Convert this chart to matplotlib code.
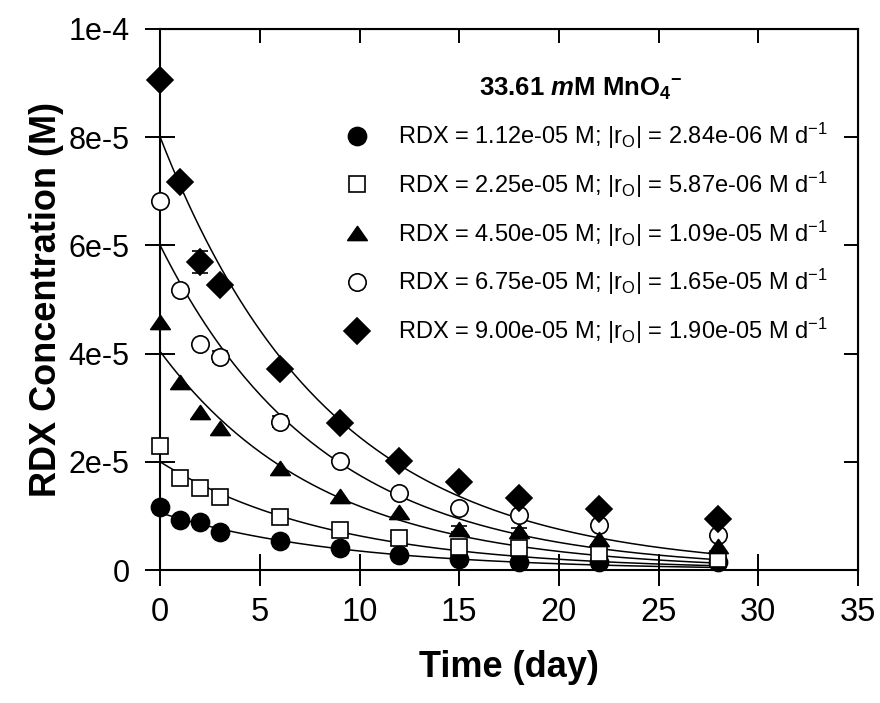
import numpy as np
import matplotlib
matplotlib.use("Agg")
import matplotlib.pyplot as plt
from matplotlib.path import Path

plt.rcParams["font.family"] = ["Liberation Sans", "DejaVu Sans"]
plt.rcParams["mathtext.fontset"] = "custom"
plt.rcParams["mathtext.rm"] = "Liberation Sans"
plt.rcParams["mathtext.it"] = "Liberation Sans:italic"
plt.rcParams["mathtext.bf"] = "Liberation Sans:bold"
plt.rcParams["mathtext.bfit"] = "Liberation Sans:bold:italic"

# sampling times (day)
time = [0, 1, 2, 3, 6, 9, 12, 15, 18, 22, 28]

# measured RDX concentration (M), one list per initial RDX
rdx_112 = [1.17e-5, 0.93e-5, 0.89e-5, 0.70e-5, 0.54e-5, 0.40e-5, 0.28e-5, 0.20e-5, 0.15e-5, 0.15e-5, 0.15e-5]
rdx_225 = [2.30e-5, 1.70e-5, 1.52e-5, 1.36e-5, 0.98e-5, 0.74e-5, 0.59e-5, 0.43e-5, 0.40e-5, 0.31e-5, 0.20e-5]
rdx_450 = [4.59e-5, 3.48e-5, 2.93e-5, 2.63e-5, 1.89e-5, 1.37e-5, 1.07e-5, 0.76e-5, 0.72e-5, 0.57e-5, 0.44e-5]
rdx_675 = [6.82e-5, 5.17e-5, 4.17e-5, 3.94e-5, 2.74e-5, 2.02e-5, 1.43e-5, 1.15e-5, 1.02e-5, 0.83e-5, 0.65e-5]
rdx_900 = [9.06e-5, 7.17e-5, 5.69e-5, 5.26e-5, 3.72e-5, 2.72e-5, 2.02e-5, 1.63e-5, 1.33e-5, 1.13e-5, 0.94e-5]

# error bars (M)
err_112 = [0, 0, 0, 0, 0, 0, 0, 0, 0, 0, 0]
err_225 = [0, 0, 0, 0, 0, 0, 0, 0, 0, 0, 0]
err_450 = [0, 0, 0, 0, 0, 0, 0, 0.5e-6, 0.6e-6, 0, 0]
err_675 = [0, 0, 0, 1.0e-6, 1.0e-6, 0, 0, 0, 0.5e-6, 0, 0]
err_900 = [0, 0, 2.0e-6, 0, 0, 0, 0, 0, 0, 0, 0]

# first-order fit parameters: C0 (M), k (1/day)
fit_c0 = [1.06e-5, 2.00e-5, 4.04e-5, 6.00e-5, 8.00e-5]
fit_k = [0.110, 0.115, 0.123, 0.123, 0.118]

labels = [
    r"RDX = 1.12e-05 M; |r$_\mathrm{O}$| = 2.84e-06 M d$^\mathrm{-1}$",
    r"RDX = 2.25e-05 M; |r$_\mathrm{O}$| = 5.87e-06 M d$^\mathrm{-1}$",
    r"RDX = 4.50e-05 M; |r$_\mathrm{O}$| = 1.09e-05 M d$^\mathrm{-1}$",
    r"RDX = 6.75e-05 M; |r$_\mathrm{O}$| = 1.65e-05 M d$^\mathrm{-1}$",
    r"RDX = 9.00e-05 M; |r$_\mathrm{O}$| = 1.90e-05 M d$^\mathrm{-1}$",
]

# flat triangle like the original symbol
tri = Path([(-1, -0.72), (1, -0.72), (0, 0.72), (-1, -0.72)],
           [Path.MOVETO, Path.LINETO, Path.LINETO, Path.CLOSEPOLY])

series = [rdx_112, rdx_225, rdx_450, rdx_675, rdx_900]
errors = [err_112, err_225, err_450, err_675, err_900]
markers = ["o", "s", tri, "o", "D"]
faces = ["black", "white", "black", "white", "black"]
sizes = [13, 11.5, 14, 12.5, 13]
zorders = [3, 4, 6, 5, 7]

fig = plt.figure(figsize=(8.8, 7.03), dpi=100)
ax = fig.add_axes([0.182, 0.189, 0.793, 0.770])

t_fit = np.linspace(0, 28, 200)
for c0, k in zip(fit_c0, fit_k):
    ax.plot(t_fit, c0 * np.exp(-k * t_fit), color="black", lw=1.1, zorder=2)

handles = []
for y, e, m, fc, ms, z in zip(series, errors, markers, faces, sizes, zorders):
    ye = np.array(e)
    mask = ye > 0
    ax.errorbar(np.array(time)[mask], np.array(y)[mask], yerr=ye[mask], fmt="none",
                ecolor="black", elinewidth=1.2, capsize=6, capthick=1.2, zorder=z)
    h, = ax.plot(time, y, linestyle="none", marker=m, ms=ms, mfc=fc, mec="black",
                 mew=1.2, zorder=z, clip_on=False)
    handles.append(h)

ax.set_xlim(0, 35)
ax.set_ylim(0, 1e-4)
ax.set_xticks(range(0, 36, 5))
ax.set_yticks([0, 2e-5, 4e-5, 6e-5, 8e-5, 1e-4],
              ["0", "2e-5", "4e-5", "6e-5", "8e-5", "1e-4"])
ax.tick_params(axis="x", direction="inout", length=23, width=1.4, labelsize=23.5, pad=8)
ax.tick_params(axis="y", direction="inout", length=22, width=1.4, labelsize=22, pad=11)
for s in ax.spines.values():
    s.set_linewidth(1.5)

top = ax.secondary_xaxis("top")
top.set_xticks(range(0, 36, 5))
top.tick_params(direction="in", length=10, width=1.4, labeltop=False)
right = ax.secondary_yaxis("right")
right.set_yticks([0, 2e-5, 4e-5, 6e-5, 8e-5, 1e-4])
right.tick_params(direction="in", length=10, width=1.4, labelright=False)

ax.set_xlabel("Time (day)", fontsize=26, fontweight="bold", labelpad=16)
ax.set_ylabel("RDX Concentration (M)", fontsize=26, fontweight="bold", labelpad=3)

leg = ax.legend(handles, labels, loc="upper left", bbox_to_anchor=(0.232, 0.935),
                frameon=False, fontsize=17, labelspacing=0.79, handletextpad=0.7,
                borderpad=0, title=r"33.61 $\mathbfit{m}$M MnO$_\mathbf{4}$$^\mathbf{-}$",
                title_fontproperties={"size": 18.5, "weight": "bold"})

fig.savefig("out.png", dpi=100)
